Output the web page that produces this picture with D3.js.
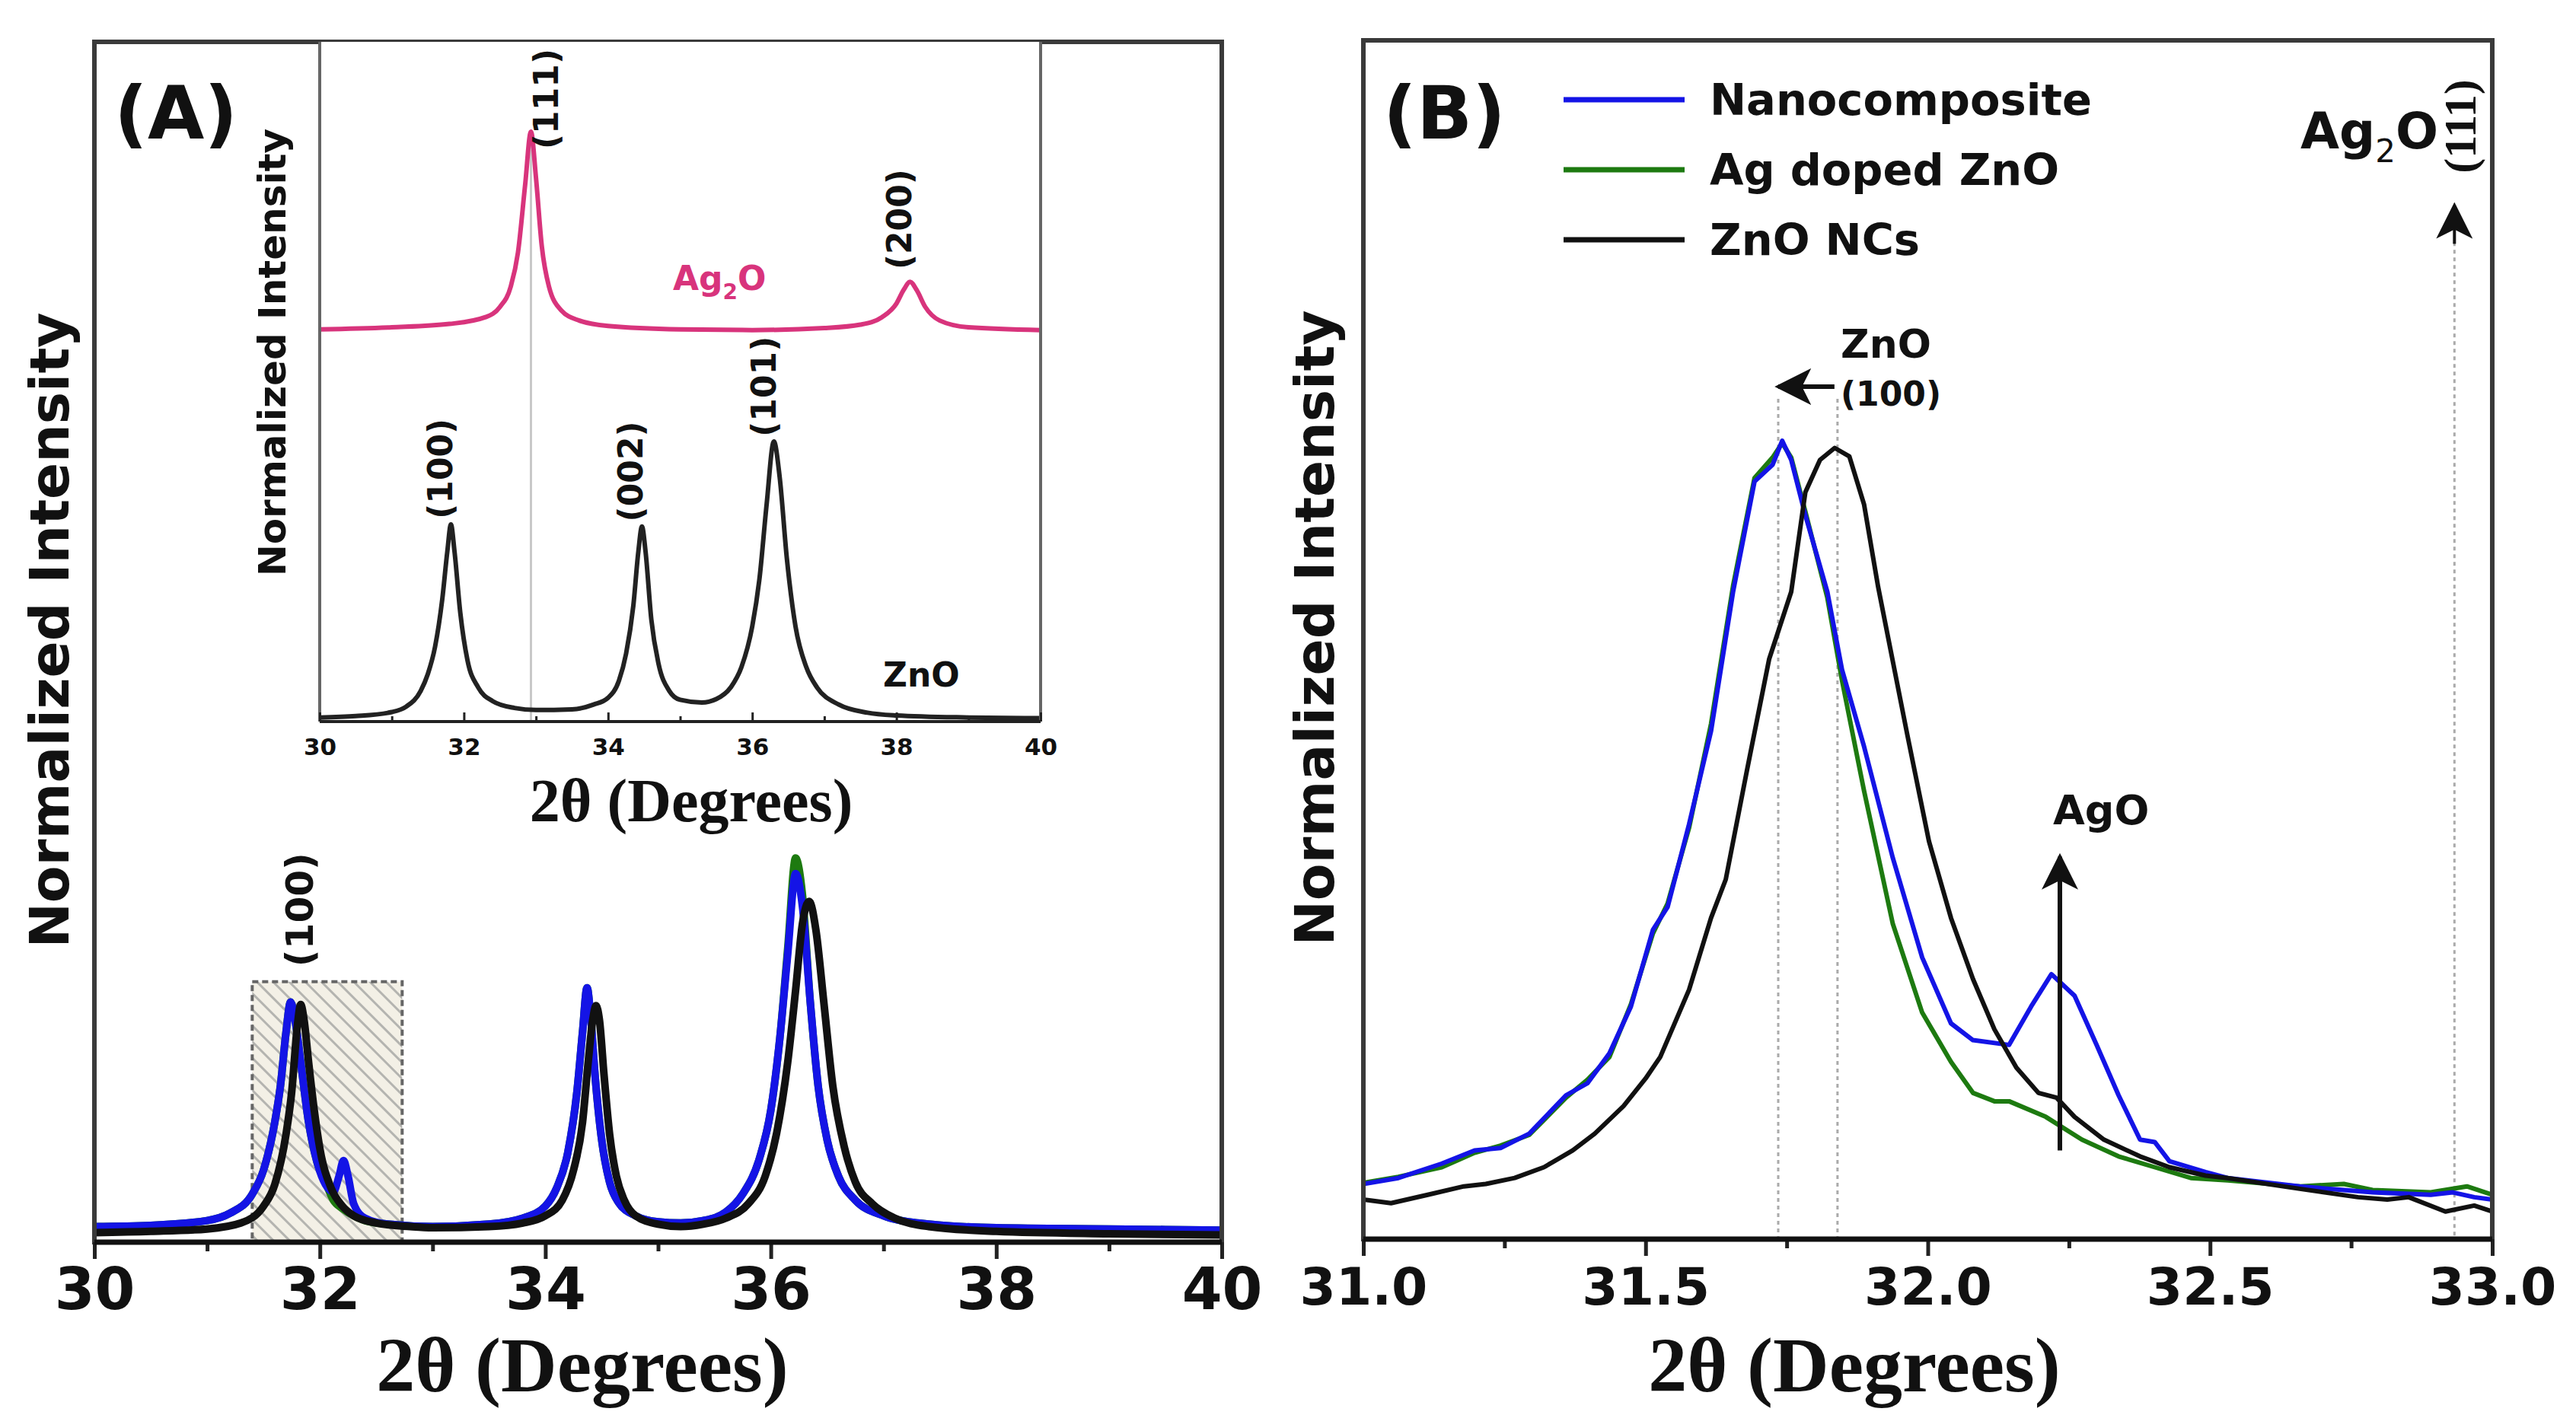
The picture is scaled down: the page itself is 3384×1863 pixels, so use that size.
<!DOCTYPE html>
<html>
<head>
<meta charset="utf-8">
<script src="https://cdn.jsdelivr.net/npm/d3@7"></script>
<style>
  body { margin: 0; background: #fff; }
  svg { display: block; }
  text { font-family: "DejaVu Sans", sans-serif; font-weight: bold; fill: #111; }
</style>
</head>
<body>
<svg id="chart" width="3384" height="1863"></svg>
<script>
// ---- panel A, main traces (2theta, normalized intensity) ----
const aGreen = [[30,0.013],[30.5,0.014],[31,0.018],[31.2,0.024],[31.4,0.04],[31.5,0.06],[31.6,0.1],[31.65,0.13],[31.7,0.175],[31.74,0.2],[31.78,0.185],[31.83,0.15],[31.9,0.1],[31.98,0.065],[32.05,0.05],[32.12,0.035],[32.2,0.028],[32.3,0.022],[32.4,0.018],[32.6,0.015],[33,0.013],[33.5,0.015],[33.8,0.02],[34,0.03],[34.1,0.045],[34.2,0.075],[34.28,0.125],[34.33,0.175],[34.37,0.212],[34.4,0.19],[34.44,0.14],[34.5,0.085],[34.57,0.05],[34.65,0.033],[34.8,0.022],[35,0.017],[35.2,0.016],[35.4,0.018],[35.6,0.025],[35.75,0.04],[35.9,0.07],[36,0.11],[36.08,0.17],[36.15,0.245],[36.22,0.32],[36.28,0.29],[36.35,0.2],[36.42,0.13],[36.5,0.085],[36.6,0.055],[36.75,0.035],[37,0.022],[37.3,0.016],[38,0.012],[39,0.011],[40,0.01]]
const aBlue = [[30,0.013],[30.5,0.014],[31,0.018],[31.2,0.024],[31.4,0.04],[31.5,0.06],[31.6,0.1],[31.65,0.13],[31.7,0.175],[31.74,0.2],[31.78,0.185],[31.83,0.15],[31.9,0.1],[31.98,0.065],[32.05,0.048],[32.12,0.042],[32.17,0.055],[32.21,0.068],[32.25,0.055],[32.3,0.032],[32.4,0.02],[32.6,0.015],[33,0.013],[33.5,0.015],[33.8,0.02],[34,0.03],[34.1,0.045],[34.2,0.075],[34.28,0.125],[34.33,0.175],[34.37,0.212],[34.4,0.19],[34.44,0.14],[34.5,0.085],[34.57,0.05],[34.65,0.033],[34.8,0.022],[35,0.017],[35.2,0.016],[35.4,0.018],[35.6,0.025],[35.75,0.04],[35.9,0.07],[36,0.11],[36.08,0.17],[36.15,0.24],[36.22,0.307],[36.28,0.28],[36.35,0.2],[36.42,0.13],[36.5,0.085],[36.6,0.055],[36.75,0.035],[37,0.022],[37.3,0.016],[38,0.012],[39,0.011],[40,0.01]]
const aBlack = [[30,0.008],[30.5,0.009],[31,0.011],[31.3,0.016],[31.5,0.03],[31.6,0.048],[31.7,0.09],[31.75,0.125],[31.8,0.18],[31.83,0.198],[31.86,0.185],[31.9,0.15],[31.95,0.11],[32,0.078],[32.1,0.045],[32.2,0.03],[32.3,0.022],[32.5,0.016],[32.8,0.013],[33,0.012],[33.5,0.013],[33.8,0.016],[34,0.022],[34.15,0.035],[34.25,0.06],[34.33,0.1],[34.38,0.15],[34.42,0.185],[34.45,0.197],[34.48,0.185],[34.52,0.14],[34.57,0.09],[34.63,0.055],[34.7,0.035],[34.8,0.022],[35,0.015],[35.2,0.013],[35.4,0.015],[35.6,0.02],[35.8,0.032],[35.95,0.055],[36.05,0.09],[36.15,0.15],[36.22,0.21],[36.28,0.265],[36.34,0.284],[36.4,0.26],[36.47,0.2],[36.55,0.13],[36.65,0.08],[36.75,0.05],[36.9,0.032],[37.1,0.02],[37.4,0.013],[38,0.009],[39,0.007],[40,0.006]]
const aBox = [31.4, 32.73, 0.217]   // shaded (100) region: x from, x to, height

// ---- panel A, inset traces ----
const insetZnO = [[30,0.006],[30.5,0.008],[31,0.014],[31.2,0.022],[31.4,0.045],[31.5,0.07],[31.6,0.11],[31.7,0.18],[31.77,0.25],[31.82,0.29],[31.87,0.25],[31.95,0.16],[32.05,0.09],[32.2,0.05],[32.4,0.03],[32.7,0.02],[33,0.017],[33.5,0.018],[33.8,0.025],[34,0.035],[34.15,0.06],[34.25,0.1],[34.35,0.17],[34.42,0.25],[34.47,0.287],[34.52,0.25],[34.6,0.15],[34.7,0.085],[34.85,0.045],[35,0.032],[35.3,0.028],[35.5,0.033],[35.7,0.05],[35.85,0.08],[36,0.14],[36.1,0.21],[36.2,0.32],[36.3,0.412],[36.38,0.36],[36.48,0.24],[36.6,0.14],[36.75,0.08],[36.9,0.05],[37.2,0.025],[37.6,0.013],[38,0.009],[39,0.006],[40,0.005]]
const insetAg2O = [[30,0.577],[31,0.58],[31.8,0.585],[32.3,0.595],[32.5,0.61],[32.65,0.64],[32.75,0.69],[32.85,0.79],[32.93,0.868],[33,0.8],[33.08,0.7],[33.18,0.64],[33.35,0.605],[33.6,0.59],[34,0.582],[35,0.577],[36,0.576],[37,0.579],[37.5,0.584],[37.8,0.595],[38,0.615],[38.1,0.635],[38.19,0.647],[38.28,0.635],[38.4,0.61],[38.6,0.59],[39,0.58],[40,0.576]]
const insetPeaks = [["(111)",33.31,0.916],["(200)",38.21,0.739],["(100)",31.84,0.372],["(002)",34.48,0.368],["(101)",36.32,0.493]]
const ag2oLine = [32.93, 0.868]

// ---- panel B, zoom on ZnO (100) ----
const bGreen = [[31,0.047],[31.062,0.052],[31.139,0.06],[31.197,0.072],[31.243,0.078],[31.294,0.087],[31.359,0.118],[31.397,0.133],[31.436,0.152],[31.474,0.196],[31.513,0.255],[31.539,0.28],[31.577,0.343],[31.616,0.43],[31.655,0.545],[31.693,0.635],[31.725,0.652],[31.742,0.664],[31.758,0.652],[31.783,0.607],[31.822,0.535],[31.848,0.466],[31.887,0.374],[31.938,0.263],[31.99,0.189],[32.041,0.148],[32.08,0.122],[32.118,0.115],[32.144,0.115],[32.209,0.102],[32.273,0.083],[32.338,0.069],[32.402,0.06],[32.466,0.051],[32.531,0.049],[32.659,0.044],[32.737,0.046],[32.788,0.041],[32.891,0.039],[32.955,0.044],[33,0.037]]
const bBlue = [[31,0.046],[31.062,0.051],[31.139,0.063],[31.197,0.074],[31.243,0.076],[31.294,0.088],[31.359,0.12],[31.397,0.13],[31.436,0.155],[31.474,0.194],[31.513,0.258],[31.539,0.277],[31.577,0.346],[31.616,0.424],[31.655,0.54],[31.693,0.632],[31.725,0.646],[31.742,0.666],[31.758,0.65],[31.783,0.604],[31.822,0.54],[31.848,0.475],[31.887,0.411],[31.938,0.318],[31.99,0.235],[32.041,0.18],[32.08,0.166],[32.144,0.162],[32.183,0.194],[32.219,0.221],[32.26,0.203],[32.299,0.162],[32.338,0.12],[32.376,0.083],[32.402,0.081],[32.428,0.065],[32.492,0.056],[32.531,0.051],[32.659,0.044],[32.788,0.039],[32.891,0.037],[32.93,0.039],[32.968,0.035],[33,0.033]]
const bBlack = [[31,0.033],[31.049,0.03],[31.114,0.037],[31.178,0.044],[31.217,0.046],[31.268,0.051],[31.32,0.06],[31.371,0.074],[31.41,0.088],[31.461,0.111],[31.5,0.134],[31.526,0.152],[31.577,0.208],[31.616,0.268],[31.642,0.3],[31.68,0.392],[31.719,0.484],[31.758,0.54],[31.783,0.623],[31.809,0.65],[31.835,0.66],[31.861,0.653],[31.887,0.613],[31.912,0.544],[31.964,0.42],[32.002,0.332],[32.041,0.268],[32.08,0.217],[32.118,0.175],[32.157,0.143],[32.196,0.122],[32.228,0.118],[32.26,0.102],[32.312,0.083],[32.376,0.069],[32.428,0.06],[32.492,0.053],[32.531,0.051],[32.659,0.042],[32.762,0.035],[32.814,0.033],[32.852,0.035],[32.917,0.023],[32.968,0.028],[33,0.023]]
const bSeries = ["Nanocomposite", "Ag doped ZnO", "ZnO NCs"]
const bPeakLines = [31.735, 31.84]     // dotted guides, shift of ZnO (100)
const bAgO = [32.234, 0.074, 0.319]    // AgO arrow: x, from, to
const bAg2O = [32.933, 0.0, 0.862]     // Ag2O (111) guide

const aTicks = [30, 32, 34, 36, 38, 40]
const aMinor = [31, 33, 35, 37, 39]
const bTicks = [31.0, 31.5, 32.0, 32.5, 33.0]
const bMinor = [31.25, 31.75, 32.25, 32.75]

const colBlue = "#1414e6", colGreen = "#1d7a10", colBlack = "#111111", colPink = "#d8347c"

const svg = d3.select("#chart")
svg.append("rect").attr("width", 3384).attr("height", 1863).attr("fill", "#fff")

const defs = svg.append("defs")
const pat = defs.append("pattern").attr("id", "hatch")
  .attr("patternUnits", "userSpaceOnUse").attr("width", 15).attr("height", 15)
  .attr("patternTransform", "rotate(-45)")
pat.append("rect").attr("width", 15).attr("height", 15).attr("fill", "#f3f0e6")
pat.append("line").attr("x1", 0).attr("y1", 0).attr("x2", 0).attr("y2", 15)
  .attr("stroke", "#b4b4b0").attr("stroke-width", 6)
defs.append("marker").attr("id", "head")
  .attr("viewBox", "0 0 10 10").attr("refX", 9).attr("refY", 5)
  .attr("markerUnits", "userSpaceOnUse").attr("markerWidth", 48).attr("markerHeight", 48)
  .attr("orient", "auto")
  .append("path").attr("d", "M0,0 L10,5 L0,10 L2.5,5 z").attr("fill", "#111")

// scales
const xA = d3.scaleLinear().domain([30, 40]).range([124, 1605])
const yA = d3.scaleLinear().domain([0, 1]).range([1632, 55])
const xI = d3.scaleLinear().domain([30, 40]).range([420, 1367])
const yI = d3.scaleLinear().domain([0, 1]).range([948, 55])
const xB = d3.scaleLinear().domain([31, 33]).range([1791, 3274])
const yB = d3.scaleLinear().domain([0, 1]).range([1628, 53])

const lineOf = (x, y, curve) => d3.line().x((d) => x(d[0])).y((d) => y(d[1])).curve(curve)

defs.append("clipPath").attr("id", "clipA").append("rect")
  .attr("x", xA(30)).attr("y", yA(1)).attr("width", xA(40) - xA(30)).attr("height", yA(0) - yA(1))
defs.append("clipPath").attr("id", "clipB").append("rect")
  .attr("x", xB(31)).attr("y", yB(1)).attr("width", xB(33) - xB(31)).attr("height", yB(0) - yB(1))

// ================= panel A =================
const gA = svg.append("g")
gA.append("rect")
  .attr("x", xA(aBox[0])).attr("y", yA(aBox[2]))
  .attr("width", xA(aBox[1]) - xA(aBox[0])).attr("height", yA(0) - yA(aBox[2]))
  .attr("fill", "url(#hatch)").attr("stroke", "#666").attr("stroke-width", 4)
  .attr("stroke-dasharray", "8 5")

const curvesA = gA.append("g").attr("clip-path", "url(#clipA)")
const lA = lineOf(xA, yA, d3.curveMonotoneX)
;[[aGreen, colGreen], [aBlue, colBlue], [aBlack, colBlack]].forEach(([d, c]) => {
  curvesA.append("path").datum(d).attr("d", lA)
    .attr("fill", "none").attr("stroke", c).attr("stroke-width", 10).attr("stroke-linejoin", "round")
})

gA.append("text")
  .attr("transform", `translate(${xA(31.82) + 17},${yA(0.277)}) rotate(-90)`)
  .attr("text-anchor", "middle").attr("font-size", 50).text("(100)")

// inset
const gI = svg.append("g")
gI.append("rect").attr("x", xI(30)).attr("y", yI(1)).attr("width", xI(40) - xI(30))
  .attr("height", yI(0) - yI(1)).attr("fill", "#fff")
gI.append("line").attr("x1", xI(ag2oLine[0])).attr("x2", xI(ag2oLine[0]))
  .attr("y1", yI(ag2oLine[1])).attr("y2", yI(0))
  .attr("stroke", "#c8c8c8").attr("stroke-width", 3)
const lI = lineOf(xI, yI, d3.curveMonotoneX)
gI.append("path").datum(insetAg2O).attr("d", lI).attr("fill", "none")
  .attr("stroke", colPink).attr("stroke-width", 6)
gI.append("path").datum(insetZnO).attr("d", lI).attr("fill", "none")
  .attr("stroke", "#222").attr("stroke-width", 6)
;[xI(30), xI(40)].forEach((x) => {
  gI.append("line").attr("x1", x).attr("x2", x).attr("y1", yI(1)).attr("y2", yI(0))
    .attr("stroke", "#666").attr("stroke-width", 4)
})
gI.append("line").attr("x1", xI(30)).attr("x2", xI(40)).attr("y1", yI(0)).attr("y2", yI(0))
  .attr("stroke", "#222").attr("stroke-width", 4)

gI.selectAll(".pk").data(insetPeaks).enter().append("text")
  .attr("transform", (d) => `translate(${xI(d[1])},${yI(d[2])}) rotate(-90)`)
  .attr("text-anchor", "middle").attr("font-size", 44).text((d) => d[0])

const ag2oInset = gI.append("text").attr("x", 884).attr("y", 381).attr("font-size", 44)
  .style("fill", colPink)
ag2oInset.append("tspan").text("Ag")
ag2oInset.append("tspan").attr("font-size", 28).attr("dy", 12).text("2")
ag2oInset.append("tspan").attr("dy", -12).text("O")
gI.append("text").attr("x", 1160).attr("y", 902).attr("font-size", 44).text("ZnO")

const axI = gI.append("g").attr("transform", `translate(0,${yI(0)})`)
axI.call(d3.axisBottom(xI).tickValues(aTicks).tickSize(-12).tickPadding(22).tickFormat(d3.format("d")))
axI.append("g").call(d3.axisBottom(xI).tickValues(aMinor).tickSize(-7).tickFormat(""))
axI.selectAll(".domain").remove()
axI.selectAll("line").attr("stroke", "#222").attr("stroke-width", 3)
axI.selectAll("text").attr("font-size", 31).attr("font-family", "DejaVu Sans").attr("fill", "#111")

gI.append("text").attr("x", 908).attr("y", 1079).attr("text-anchor", "middle")
  .attr("font-size", 80).style("font-family", "'Liberation Serif', serif").text("2θ (Degrees)")
gI.append("text").attr("transform", "translate(358,463) rotate(-90)")
  .attr("text-anchor", "middle").attr("dominant-baseline", "central")
  .attr("font-size", 50).text("Normalized Intensity")

// frame + axis A
gA.append("rect").attr("x", xA(30)).attr("y", yA(1)).attr("width", xA(40) - xA(30))
  .attr("height", yA(0) - yA(1)).attr("fill", "none").attr("stroke", "#3a3a3a").attr("stroke-width", 6)
const axA = gA.append("g").attr("transform", `translate(0,${yA(0)})`)
axA.call(d3.axisBottom(xA).tickValues(aTicks).tickSize(22).tickPadding(12).tickFormat(d3.format("d")))
axA.append("g").call(d3.axisBottom(xA).tickValues(aMinor).tickSize(12).tickFormat(""))
axA.selectAll(".domain").remove()
axA.selectAll("line").attr("stroke", "#222").attr("stroke-width", 5)
axA.selectAll("text").attr("font-size", 76).attr("font-family", "DejaVu Sans").attr("fill", "#111")
gA.append("line").attr("x1", xA(30)).attr("x2", xA(40)).attr("y1", yA(0)).attr("y2", yA(0))
  .attr("stroke", "#111").attr("stroke-width", 7)

gA.append("text").attr("x", 765).attr("y", 1828).attr("text-anchor", "middle")
  .attr("font-size", 102).style("font-family", "'Liberation Serif', serif").text("2θ (Degrees)")
gA.append("text").attr("transform", "translate(65,828) rotate(-90)")
  .attr("text-anchor", "middle").attr("dominant-baseline", "central")
  .attr("font-size", 71).text("Normalized Intensity")
gA.append("text").attr("x", 150).attr("y", 182).attr("font-size", 96).text("(A)")

// ================= panel B =================
const gB = svg.append("g")
gB.selectAll(".guide").data(bPeakLines).enter().append("line")
  .attr("x1", (d) => xB(d)).attr("x2", (d) => xB(d))
  .attr("y1", yB(0.701)).attr("y2", yB(0))
  .attr("stroke", "#aaa").attr("stroke-width", 3).attr("stroke-dasharray", "5 5")
gB.append("line").attr("x1", xB(bAg2O[0])).attr("x2", xB(bAg2O[0]))
  .attr("y1", yB(bAg2O[2]) + 48).attr("y2", yB(bAg2O[1]))
  .attr("stroke", "#aaa").attr("stroke-width", 3).attr("stroke-dasharray", "5 5")

const curvesB = gB.append("g").attr("clip-path", "url(#clipB)")
const lB = lineOf(xB, yB, d3.curveLinear)
;[[bGreen, colGreen], [bBlue, colBlue], [bBlack, colBlack]].forEach(([d, c]) => {
  curvesB.append("path").datum(d).attr("d", lB)
    .attr("fill", "none").attr("stroke", c).attr("stroke-width", 6).attr("stroke-linejoin", "round")
})

// arrows
gB.append("line").attr("x1", xB(bAgO[0])).attr("x2", xB(bAgO[0]))
  .attr("y1", yB(bAgO[1])).attr("y2", yB(bAgO[2]))
  .attr("stroke", "#111").attr("stroke-width", 6).attr("marker-end", "url(#head)")
gB.append("line").attr("x1", xB(bAg2O[0])).attr("x2", xB(bAg2O[0]))
  .attr("y1", yB(bAg2O[2]) + 50).attr("y2", yB(bAg2O[2]))
  .attr("stroke", "#111").attr("stroke-width", 4).attr("marker-end", "url(#head)")
gB.append("line").attr("x1", xB(bPeakLines[1]) - 4).attr("x2", xB(bPeakLines[0]))
  .attr("y1", 508).attr("y2", 508)
  .attr("stroke", "#111").attr("stroke-width", 6).attr("marker-end", "url(#head)")

gB.append("text").attr("x", 2697).attr("y", 1083).attr("font-size", 54).text("AgO")
gB.append("text").attr("x", 2418).attr("y", 470).attr("font-size", 52).text("ZnO")
gB.append("text").attr("x", 2418).attr("y", 533).attr("font-size", 44).text("(100)")
const ag2oB = gB.append("text").attr("x", 3022).attr("y", 195).attr("font-size", 66)
ag2oB.append("tspan").text("Ag")
ag2oB.append("tspan").attr("font-size", 42).attr("font-weight", "normal").attr("dy", 18).text("2")
ag2oB.append("tspan").attr("dy", -18).text("O")
gB.append("text").attr("transform", "translate(3232,166) rotate(-90)")
  .attr("text-anchor", "middle").attr("dominant-baseline", "central")
  .attr("font-size", 60).attr("font-weight", "normal")
  .style("font-family", "'Liberation Serif', serif").text("(111)")

// legend
const legB = gB.append("g")
bSeries.forEach((name, i) => {
  const y = 131 + i * 92
  legB.append("line").attr("x1", 2054).attr("x2", 2213).attr("y1", y).attr("y2", y)
    .attr("stroke", [colBlue, colGreen, colBlack][i]).attr("stroke-width", 7)
  legB.append("text").attr("x", 2246).attr("y", y).attr("dominant-baseline", "central")
    .attr("font-size", 57.5).text(name)
})

gB.append("rect").attr("x", xB(31)).attr("y", yB(1)).attr("width", xB(33) - xB(31))
  .attr("height", yB(0) - yB(1)).attr("fill", "none").attr("stroke", "#3a3a3a").attr("stroke-width", 6)
const axB = gB.append("g").attr("transform", `translate(0,${yB(0)})`)
axB.call(d3.axisBottom(xB).tickValues(bTicks).tickSize(22).tickPadding(16).tickFormat(d3.format(".1f")))
axB.append("g").call(d3.axisBottom(xB).tickValues(bMinor).tickSize(12).tickFormat(""))
axB.selectAll(".domain").remove()
axB.selectAll("line").attr("stroke", "#222").attr("stroke-width", 5)
axB.selectAll("text").attr("font-size", 68).attr("font-family", "DejaVu Sans").attr("fill", "#111")
gB.append("line").attr("x1", xB(31)).attr("x2", xB(33)).attr("y1", yB(0)).attr("y2", yB(0))
  .attr("stroke", "#111").attr("stroke-width", 7)

gB.append("text").attr("x", 2436).attr("y", 1828).attr("text-anchor", "middle")
  .attr("font-size", 102).style("font-family", "'Liberation Serif', serif").text("2θ (Degrees)")
gB.append("text").attr("transform", "translate(1727,825) rotate(-90)")
  .attr("text-anchor", "middle").attr("dominant-baseline", "central")
  .attr("font-size", 71).text("Normalized Intensity")
gB.append("text").attr("x", 1817).attr("y", 182).attr("font-size", 96).text("(B)")
</script>
</body>
</html>
